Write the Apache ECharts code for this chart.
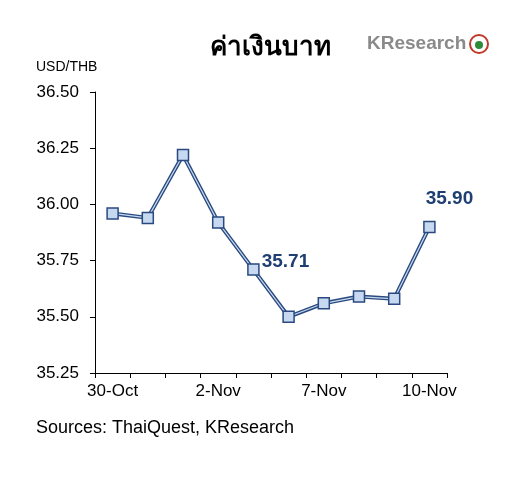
<!DOCTYPE html>
<html>
<head>
<meta charset="utf-8" />
<script src="https://cdn.jsdelivr.net/npm/echarts@6/dist/echarts.min.js"></script>
<style>
    html, body { margin: 0; padding: 0; background: #fff; }
    #chart { width: 524px; height: 481px; }
</style>
</head>
<body>
<div id="chart"></div>
<script>
    // data
    var categories = ['30-Oct', '31-Oct', '1-Nov', '2-Nov', '3-Nov', '6-Nov', '7-Nov', '8-Nov', '9-Nov', '10-Nov'];
    var shownLabels = ['30-Oct', '2-Nov', '7-Nov', '10-Nov'];
    var rates = [35.96, 35.94, 36.22, 35.92, 35.71, 35.50, 35.56, 35.59, 35.58, 35.90];
    var labelled = { 4: '35.71', 9: '35.90' };

    var chart = echarts.init(document.getElementById('chart'));
    var font = 'Liberation Sans, Arial, sans-serif';

    chart.setOption({
        animation: false,
        textStyle: { fontFamily: font },
        title: [{
            text: 'ค่าเงินบาท',
            left: 265, top: 30, textAlign: 'center',
            textStyle: { fontSize: 26, fontWeight: 'bold', color: '#000', fontFamily: 'Noto Sans, sans-serif' }
        }],
        graphic: [
            { type: 'text', left: 36, top: 60, style: { text: 'USD/THB', fontSize: 14, fill: '#000', font: '15px ' + font } },
            { type: 'text', left: 36, top: 419, style: { text: 'Sources: ThaiQuest, KResearch', font: '18px ' + font, fill: '#000' } },
            { type: 'text', left: 367, top: 34, style: { text: 'KResearch', font: 'bold 19px ' + font, fill: '#8a8a8a' } },
            { type: 'circle', shape: { cx: 479, cy: 44, r: 9 }, style: { fill: '#fff', stroke: '#c0392b', lineWidth: 2 } },
            { type: 'circle', shape: { cx: 479, cy: 45, r: 4 }, style: { fill: '#2e8b3a' } }
        ],
        grid: { left: 95, right: 77, top: 92, bottom: 108 },
        xAxis: {
            type: 'category',
            data: categories,
            boundaryGap: true,
            axisLine: { lineStyle: { color: '#000', width: 1 } },
            axisTick: { show: true, interval: 0, lineStyle: { color: '#000' } },
            axisLabel: {
                interval: 0, color: '#000', fontSize: 17, margin: 10,
                formatter: function (v) { return shownLabels.indexOf(v) >= 0 ? v : ''; }
            }
        },
        yAxis: {
            type: 'value',
            min: 35.25, max: 36.5, interval: 0.25,
            axisLine: { show: true, lineStyle: { color: '#000' } },
            axisTick: { show: true, lineStyle: { color: '#000' } },
            splitLine: { show: false },
            axisLabel: { color: '#000', fontSize: 17, margin: 16, formatter: function (v) { return v.toFixed(2); } }
        },
        series: [{
            type: 'line',
            data: rates,
            symbol: 'none',
            lineStyle: { color: '#2a4a7f', width: 4 },
            z: 2
        }, {
            type: 'line',
            data: rates,
            symbol: 'rect',
            symbolSize: 11,
            lineStyle: { color: '#c6d9f1', width: 1.2 },
            itemStyle: { color: '#c6d9f1', borderColor: '#2a4a7f', borderWidth: 1.5 },
            label: {
                show: true,
                formatter: function (p) { return labelled[p.dataIndex] || ''; },
                position: 'right', distance: 2,
                fontSize: 19, fontWeight: 'bold', color: '#1f3f73'
            },
            labelLayout: function (p) {
                if (p.dataIndex === 9) return { dx: -12, dy: -28 };
                return { dy: -8 };
            },
            z: 3
        }]
    });
</script>
</body>
</html>
